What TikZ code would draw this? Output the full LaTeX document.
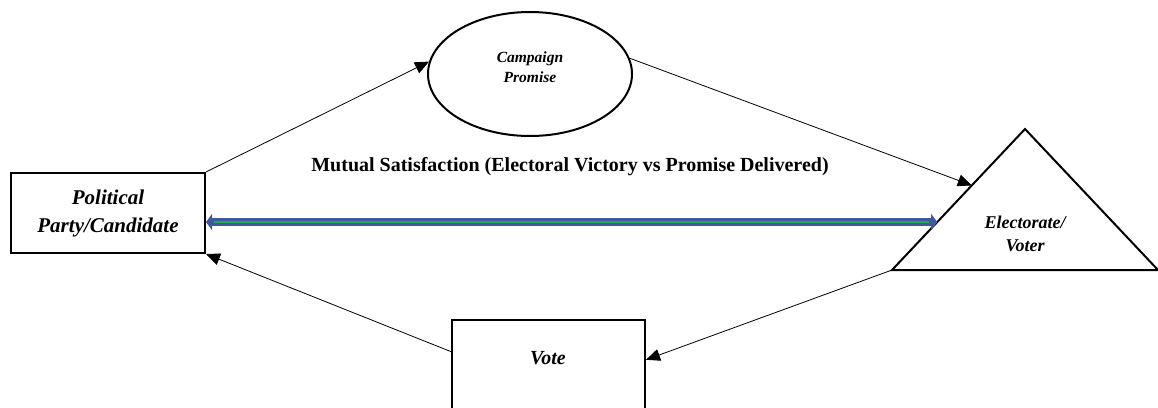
\documentclass[tikz,border=0pt]{standalone}
\usepackage{fontspec}
\setmainfont{Liberation Serif}
\usetikzlibrary{arrows.meta,shapes.geometric,calc}
\definecolor{linkblue}{RGB}{62,88,162}
\definecolor{linkgreen}{RGB}{34,170,80}
\begin{document}
\begin{tikzpicture}[x=1pt,y=-1pt,
  box/.style={draw,line width=2pt,rectangle,inner sep=0pt},
  flow/.style={line width=0.8pt,-{Triangle[length=14pt,width=12pt]}},
  itxt/.style={font=\bfseries\itshape,align=center,inner sep=0pt},
]
\useasboundingbox (0,0) rectangle (1158,407);
\clip (0,0) rectangle (1158,407);

% party / candidate box
\node[box,minimum width=194pt,minimum height=80pt,itxt,
      font=\fontsize{21}{28}\selectfont\bfseries\itshape] (pol) at (108,213)
  {Political\\Party/Candidate};

% campaign promise ellipse
\node[draw,line width=2pt,ellipse,minimum width=204pt,minimum height=124pt,inner sep=0pt]
  (cp) at (530,74) {};
\node[itxt,font=\fontsize{15.5}{20}\selectfont\bfseries\itshape] (cptxt) at (530,67)
  {Campaign\\Promise};

% electorate triangle
\coordinate (tl) at (892,270);
\coordinate (ta) at (1025,129);
\coordinate (tr) at (1158,270);
\draw[line width=2pt,line join=miter] (tl) -- (ta) -- (tr) -- cycle;
\node[itxt,font=\fontsize{18}{23}\selectfont\bfseries\itshape] (tritxt) at (1025,234)
  {Electorate/\\Voter};
\coordinate (tri-in) at ($(tl)!0.6!(ta)$);
\coordinate (tri-mid) at ($(tl)!0.34!(ta)$);

% vote box
\node[box,minimum width=193pt,minimum height=100pt] (vote) at (548.5,370) {};
\node[itxt,font=\fontsize{20}{24}\selectfont\bfseries\itshape] (votetxt) at (548,358) {Vote};

% label over the two-way link
\node[font=\fontsize{20}{24}\selectfont\bfseries,inner sep=0pt] (mutual) at (570,167)
  {Mutual Satisfaction (Electoral Victory vs Promise Delivered)};

% cycle connectors
\draw[flow] (pol.north east) -- (cp.173);
\draw[flow] (cp.9) -- (tri-in);
\draw[flow] (tl) -- ($(vote.north east)!0.4!(vote.south east)$);
\draw[flow] ($(vote.north west)!0.32!(vote.south west)$) -- (pol.south east);

% two-way satisfaction link
\coordinate (linkL) at (pol.east |- tri-mid);
\draw[linkblue,line width=8pt,{Triangle[length=6pt,width=16pt]}-{Triangle[length=6pt,width=16pt]}]
  (linkL) -- (tri-mid);
\draw[linkgreen,line width=2.5pt,shorten <=8pt,shorten >=8pt] (linkL) -- (tri-mid);
\end{tikzpicture}
\end{document}
